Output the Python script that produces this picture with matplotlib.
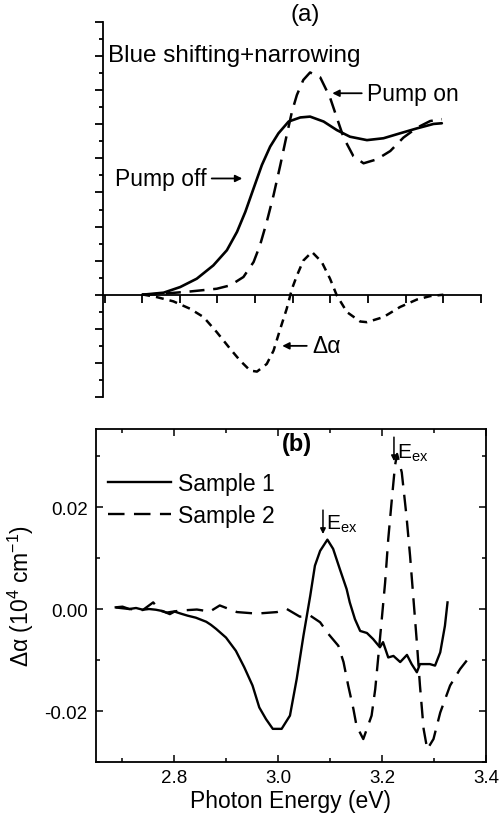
import matplotlib
matplotlib.use("Agg")
import matplotlib.pyplot as plt
from matplotlib.ticker import MultipleLocator, FormatStrFormatter

plt.rcParams['font.family'] = ['Liberation Sans', 'DejaVu Sans']
plt.rcParams['mathtext.fontset'] = 'custom'
plt.rcParams['mathtext.rm'] = 'Liberation Sans'
plt.rcParams['mathtext.it'] = 'Liberation Sans:italic'
plt.rcParams['axes.unicode_minus'] = False

# ---------------- Panel (a): schematic (arbitrary units) ----------------
a_x_off = [0, 0.57, 1.01, 1.45, 1.89, 2.25, 2.52, 2.74, 2.96, 3.18, 3.40, 3.62, 3.89,
           4.20, 4.46, 4.82, 5.17, 5.52, 5.97, 6.41, 6.85, 7.30, 7.74, 7.96]
a_y_off = [0.0, 0.12, 0.45, 0.94, 1.72, 2.61, 3.69, 4.86, 6.24, 7.61, 8.69, 9.47, 10.16,
           10.40, 10.45, 10.16, 9.66, 9.27, 9.07, 9.18, 9.47, 9.76, 10.02, 10.06]

a_x_on = [0, 0.56, 1.27, 1.98, 2.34, 2.69, 2.96, 3.13, 3.31, 3.49, 3.67, 3.84, 3.98,
          4.11, 4.28, 4.46, 4.73, 4.99, 5.17, 5.35, 5.61, 5.88, 6.23, 6.59, 6.94,
          7.30, 7.65, 7.96]
a_y_on = [0.0, 0.06, 0.19, 0.35, 0.55, 1.04, 1.92, 2.90, 4.28, 5.84, 7.61, 9.37, 10.75,
          11.72, 12.60, 13.04, 12.75, 11.57, 10.39, 9.22, 8.13, 7.71, 7.94, 8.43, 9.22,
          9.80, 10.19, 10.30]

a_x_d = [0, 0.39, 0.83, 1.27, 1.63, 1.98, 2.34, 2.60, 2.87, 3.05, 3.31, 3.49, 3.67,
         3.84, 3.98, 4.11, 4.28, 4.51, 4.77, 4.99, 5.17, 5.44, 5.79, 5.97, 6.41,
         6.85, 7.30, 7.65, 8.0]
a_y_d = [0.02, -0.14, -0.39, -0.82, -1.31, -2.19, -3.18, -3.86, -4.45, -4.51, -4.06,
         -3.28, -1.99, -0.82, 0.35, 1.12, 2.00, 2.51, 1.92, 0.94, -0.04, -1.02, -1.57,
         -1.61, -1.31, -0.72, -0.28, -0.08, 0.0]

# ---------------- Panel (b): measured Δα ----------------
b_E1 = [2.688, 2.701, 2.714, 2.727, 2.740, 2.752, 2.765, 2.778, 2.792, 2.801, 2.813,
        2.826, 2.842, 2.862, 2.871, 2.881, 2.900, 2.919, 2.935, 2.951, 2.964, 2.977,
        2.990, 3.007, 3.023, 3.036, 3.049, 3.062, 3.071, 3.081, 3.095, 3.106, 3.119,
        3.132, 3.138, 3.148, 3.158, 3.171, 3.183, 3.196, 3.202, 3.212, 3.222, 3.235,
        3.248, 3.257, 3.267, 3.273, 3.292, 3.302, 3.312, 3.321, 3.326]
b_S1 = [0.00033, 0.00046, 0.0, 0.0002, -0.00014, 0.0, -0.00014, -0.0004, -0.001,
        -0.0005, -0.0009, -0.0013, -0.0017, -0.0025, -0.0031, -0.0039, -0.0056,
        -0.0082, -0.0114, -0.0150, -0.0193, -0.0216, -0.0235, -0.0235, -0.0209,
        -0.0137, -0.0052, 0.0026, 0.0085, 0.0114, 0.0136, 0.0118, 0.0078, 0.0039,
        0.0013, -0.0020, -0.0043, -0.0047, -0.0059, -0.0075, -0.0065, -0.0095,
        -0.0092, -0.0104, -0.0090, -0.0108, -0.0124, -0.0108, -0.0108, -0.0111,
        -0.0085, -0.0033, 0.0013]

b_E2 = [2.688, 2.714, 2.740, 2.760, 2.773, 2.786, 2.812, 2.844, 2.869, 2.888, 2.921,
        2.959, 2.998, 3.017, 3.042, 3.062, 3.081, 3.097, 3.116, 3.126, 3.135, 3.145,
        3.151, 3.164, 3.180, 3.187, 3.193, 3.199, 3.206, 3.212, 3.219, 3.225, 3.229,
        3.238, 3.247, 3.254, 3.260, 3.267, 3.273, 3.280, 3.287, 3.299, 3.312, 3.331,
        3.350, 3.363]
b_S2 = [0.0003, 0.0, -0.0002, 0.0013, -0.0003, -0.0007, -0.0003, -0.0001, -0.0005,
        0.0007, -0.0006, -0.0009, -0.0006, 0.0, -0.0015, -0.0013, -0.0026, -0.0049,
        -0.0072, -0.0104, -0.0150, -0.0196, -0.0229, -0.0255, -0.0209, -0.0157,
        -0.0092, -0.0026, 0.0052, 0.0137, 0.0216, 0.0281, 0.0304, 0.0268, 0.0183,
        0.0104, 0.0026, -0.0065, -0.0150, -0.0235, -0.0275, -0.0255, -0.0203,
        -0.0150, -0.0118, -0.0101]

b_xticks = [2.8, 3.0, 3.2, 3.4]
b_yticks = [-0.02, 0.00, 0.02]
b_labels = ['Sample 1', 'Sample 2']

W, H = 500, 820
fig = plt.figure(figsize=(W / 100, H / 100), dpi=100)

def rect(l, t, r, b):
    return [l / W, 1 - b / H, (r - l) / W, (b - t) / H]

# ---------- Panel (a) ----------
axa = fig.add_axes(rect(103, 23, 481, 398))
axa.plot(a_x_off, a_y_off, color='black', lw=1.9, solid_capstyle='round',
         solid_joinstyle='round')
axa.plot(a_x_on, a_y_on, color='black', lw=1.8, dashes=(6, 3.5))
axa.plot(a_x_d, a_y_d, color='black', lw=1.8, dashes=(3.2, 2.4))
axa.set_xlim(-1.04, 9.0)
axa.set_ylim(-6, 16)
axa.spines['top'].set_visible(False)
axa.spines['right'].set_visible(False)
axa.spines['bottom'].set_position(('data', 0))
for s in ('left', 'bottom'):
    axa.spines[s].set_linewidth(1.3)
axa.xaxis.set_major_locator(MultipleLocator(1))
axa.yaxis.set_major_locator(MultipleLocator(2))
axa.yaxis.set_minor_locator(MultipleLocator(1))
axa.tick_params(axis='x', which='both', direction='out', length=6, width=1.3,
                labelbottom=False)
axa.tick_params(axis='y', which='major', direction='out', length=6, width=1.3,
                labelleft=False)
axa.tick_params(axis='y', which='minor', direction='out', length=3, width=1.3)

axa.text(-0.90, 14.06, 'Blue shifting+narrowing', fontsize=17.5, ha='left', va='center')
axa.annotate('Pump on', xy=(5.05, 11.82), xytext=(5.98, 11.82), fontsize=16.5,
             ha='left', va='center',
             arrowprops=dict(arrowstyle='-|>', color='black', lw=1.3,
                             mutation_scale=10, shrinkA=2, shrinkB=0))
axa.annotate('Pump off', xy=(2.66, 6.82), xytext=(1.70, 6.82), fontsize=16.5,
             ha='right', va='center',
             arrowprops=dict(arrowstyle='-|>', color='black', lw=1.3,
                             mutation_scale=10, shrinkA=2, shrinkB=0))
axa.annotate('Δα', xy=(3.72, -3.0), xytext=(4.52, -3.0), fontsize=16.5,
             ha='left', va='center',
             arrowprops=dict(arrowstyle='-|>', color='black', lw=1.3,
                             mutation_scale=10, shrinkA=2, shrinkB=0))
fig.text(305 / W, 1 - 15 / H, '(a)', fontsize=17.5, ha='center', va='center')

# ---------- Panel (b) ----------
axb = fig.add_axes(rect(96, 430, 486, 763))
axb.plot(b_E1, b_S1, color='black', lw=1.7, label=b_labels[0])
axb.plot(b_E2, b_S2, color='black', lw=1.7, dashes=(7, 4), label=b_labels[1])
axb.set_xlim(2.65, 3.4)
axb.set_ylim(-0.030, 0.0353)
axb.set_xticks(b_xticks)
axb.set_yticks(b_yticks)
axb.xaxis.set_minor_locator(MultipleLocator(0.1))
axb.yaxis.set_minor_locator(MultipleLocator(0.01))
axb.yaxis.set_major_formatter(FormatStrFormatter('%.2f'))
axb.xaxis.set_major_formatter(FormatStrFormatter('%.1f'))
for s in axb.spines.values():
    s.set_linewidth(1.3)
axb.tick_params(which='both', direction='in', top=True, right=True, width=1.1,
                labelsize=13.5)
axb.tick_params(which='major', length=5)
axb.tick_params(which='minor', length=3)
axb.tick_params(axis='y', pad=6)
axb.tick_params(axis='x', pad=5)
axb.set_xlabel('Photon Energy (eV)', fontsize=16.5, labelpad=2)
axb.set_ylabel('Δα (10$^{4}$ cm$^{-1}$)', fontsize=16.5)
axb.yaxis.set_label_coords(-0.155, 0.5)

leg = axb.legend(loc='upper left', bbox_to_anchor=(0.03, 0.872), frameon=False,
                 fontsize=16.5, handlelength=2.75, handletextpad=0.3,
                 labelspacing=0.42, borderaxespad=0, borderpad=0)

axb.text(3.037, 0.0324, '(b)', fontsize=17, fontweight='bold', ha='center', va='center')
axb.annotate('', xy=(3.0865, 0.0147), xytext=(3.0865, 0.0194),
             arrowprops=dict(arrowstyle='-|>', color='black', lw=1.1,
                             mutation_scale=8, shrinkA=0, shrinkB=0))
axb.text(3.093, 0.0168, 'E$_{\\mathrm{ex}}$', fontsize=15, ha='left', va='center')
axb.annotate('', xy=(3.223, 0.0290), xytext=(3.223, 0.0337),
             arrowprops=dict(arrowstyle='-|>', color='black', lw=1.1,
                             mutation_scale=8, shrinkA=0, shrinkB=0))
axb.text(3.229, 0.0308, 'E$_{\\mathrm{ex}}$', fontsize=15, ha='left', va='center')

fig.savefig('out.png', dpi=100)
